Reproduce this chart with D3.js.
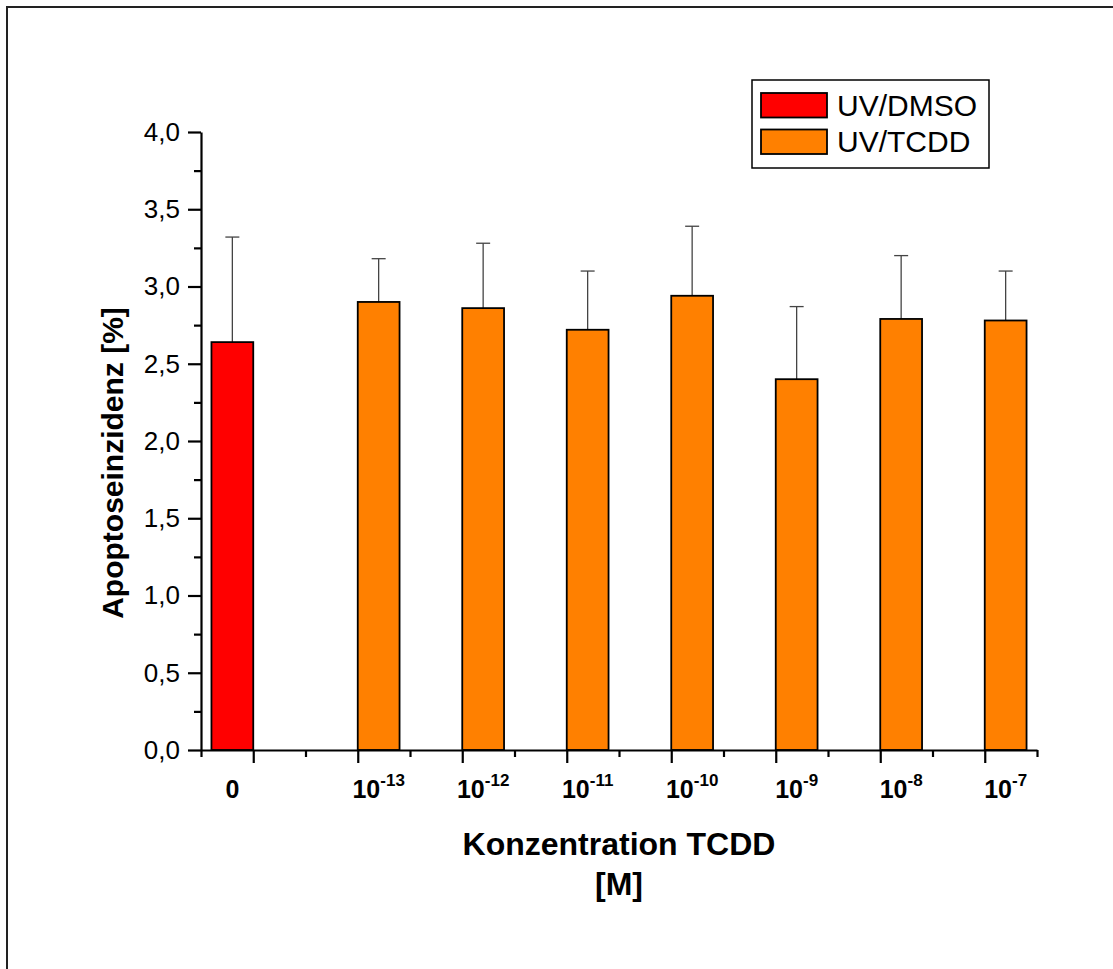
<!DOCTYPE html>
<html>
<head>
<meta charset="utf-8">
<script src="https://cdn.jsdelivr.net/npm/d3@7"></script>
<style>
  body { margin: 0; background: #fff; }
  svg text { font-family: "Liberation Sans", Arial, sans-serif; }
</style>
</head>
<body>
<div id="chart"></div>
<script>
/* data */
var categories = ["0", "-13", "-12", "-11", "-10", "-9", "-8", "-7"];   // exponents of 10, "0" = control
var dmso    = [2.64, null, null, null, null, null, null, null];
var dmsoErr = [0.68, null, null, null, null, null, null, null];
var tcdd    = [null, 2.90, 2.86, 2.72, 2.94, 2.40, 2.79, 2.78];
var tcddErr = [null, 0.28, 0.42, 0.38, 0.45, 0.47, 0.41, 0.32];
var yTicks  = [0, 0.5, 1, 1.5, 2, 2.5, 3, 3.5, 4];
var seriesNames  = ["UV/DMSO", "UV/TCDD"];
var seriesColors = ["#ff0000", "#ff8000"];

var width = 1113, height = 969;
var plot = { left: 201, right: 1037, top: 132, bottom: 750 };
var barW = 0.4;   // in category units

var svg = d3.select("#chart").append("svg")
    .attr("width", width)
    .attr("height", height);

/* outer frame */
svg.append("rect")
    .attr("x", 7).attr("y", 7)
    .attr("width", width + 20).attr("height", height + 20)
    .attr("fill", "none")
    .attr("stroke", "#222")
    .attr("stroke-width", 2);

var x = d3.scaleLinear().domain([0.5, categories.length + 0.5]).range([plot.left, plot.right]);
var y = d3.scaleLinear().domain([0, 4]).range([plot.bottom, plot.top]);

/* build bar records from the arrays */
var bars = [];
categories.forEach(function(c, i) {
    if (dmso[i] != null) bars.push({ pos: i + 1, off: -barW, v: dmso[i], e: dmsoErr[i], color: seriesColors[0] });
    if (tcdd[i] != null) bars.push({ pos: i + 1, off: 0, v: tcdd[i], e: tcddErr[i], color: seriesColors[1] });
});

/* error bars (upper only) */
var err = svg.append("g").attr("stroke", "#444").attr("stroke-width", 1.3);
err.selectAll(".ev").data(bars).enter().append("line")
    .attr("x1", function(d) { return x(d.pos + d.off + barW / 2); })
    .attr("x2", function(d) { return x(d.pos + d.off + barW / 2); })
    .attr("y1", function(d) { return y(d.v); })
    .attr("y2", function(d) { return y(d.v + d.e); });
err.selectAll(".ec").data(bars).enter().append("line")
    .attr("x1", function(d) { return x(d.pos + d.off + barW / 2) - 7; })
    .attr("x2", function(d) { return x(d.pos + d.off + barW / 2) + 7; })
    .attr("y1", function(d) { return y(d.v + d.e); })
    .attr("y2", function(d) { return y(d.v + d.e); });

/* bars */
svg.append("g").selectAll("rect").data(bars).enter().append("rect")
    .attr("x", function(d) { return x(d.pos + d.off); })
    .attr("y", function(d) { return y(d.v); })
    .attr("width", function(d) { return x(d.pos + d.off + barW) - x(d.pos + d.off); })
    .attr("height", function(d) { return y(0) - y(d.v); })
    .attr("fill", function(d) { return d.color; })
    .attr("stroke", "#000")
    .attr("stroke-width", 1.8);

/* y axis: major + minor ticks */
var fmt = function(d) { return d3.format(".1f")(d).replace(".", ","); };
var yAxis = svg.append("g")
    .attr("transform", "translate(" + plot.left + ",0)")
    .call(d3.axisLeft(y).tickValues(yTicks).tickSize(13).tickSizeOuter(0).tickPadding(8).tickFormat(fmt));
svg.append("g")
    .attr("transform", "translate(" + plot.left + ",0)")
    .call(d3.axisLeft(y).tickValues(yTicks.slice(1).map(function(t) { return t - 0.25; }))
        .tickSize(7).tickSizeOuter(0).tickFormat(""))
    .select(".domain").remove();
yAxis.selectAll("text").attr("font-size", 26).attr("fill", "#000")
    .style("font-family", "Liberation Sans, Arial, sans-serif");

/* x axis: major ticks at categories, minor between */
var xMajor = categories.map(function(c, i) { return i + 1; });
var xMinor = [0.5].concat(xMajor.map(function(p) { return p + 0.5; }));
svg.append("g")
    .attr("transform", "translate(0," + plot.bottom + ")")
    .call(d3.axisBottom(x).tickValues(xMajor).tickSize(13).tickSizeOuter(0).tickFormat(""));
svg.append("g")
    .attr("transform", "translate(0," + plot.bottom + ")")
    .call(d3.axisBottom(x).tickValues(xMinor).tickSize(7).tickSizeOuter(0).tickFormat(""))
    .select(".domain").remove();

svg.selectAll(".domain").attr("stroke", "#000").attr("stroke-width", 2.2);
svg.selectAll(".tick line").attr("stroke", "#000").attr("stroke-width", 2.2);

/* x tick labels with superscript exponents, centred on the drawn bar */
var xl = svg.append("g").attr("font-weight", "bold").attr("fill", "#000");
bars.forEach(function(b, i) {
    var c = categories[b.pos - 1];
    var t = xl.append("text")
        .attr("x", x(b.pos + b.off + barW / 2))
        .attr("y", 798)
        .attr("text-anchor", "middle")
        .attr("font-size", 25);
    if (c === "0") {
        t.text("0");
    } else {
        t.append("tspan").text("10");
        t.append("tspan").attr("dy", -12).attr("font-size", 17).text(c);
    }
});

/* axis titles */
svg.append("text")
    .attr("x", (plot.left + plot.right) / 2).attr("y", 855)
    .attr("text-anchor", "middle").attr("font-weight", "bold").attr("font-size", 32)
    .text("Konzentration TCDD");
svg.append("text")
    .attr("x", (plot.left + plot.right) / 2).attr("y", 895)
    .attr("text-anchor", "middle").attr("font-weight", "bold").attr("font-size", 32)
    .text("[M]");
svg.append("text")
    .attr("transform", "translate(123,463)rotate(-90)")
    .attr("text-anchor", "middle").attr("font-weight", "bold").attr("font-size", 30)
    .text("Apoptoseinzidenz [%]");

/* legend */
var lg = svg.append("g").attr("transform", "translate(752,80)");
lg.append("rect").attr("width", 237).attr("height", 88)
    .attr("fill", "#fff").attr("stroke", "#000").attr("stroke-width", 1.5);
seriesNames.forEach(function(n, i) {
    lg.append("rect")
        .attr("x", 9).attr("y", 13 + i * 36.5)
        .attr("width", 66).attr("height", 24.5)
        .attr("fill", seriesColors[i]).attr("stroke", "#000").attr("stroke-width", 1.8);
    lg.append("text")
        .attr("x", 85).attr("y", 35.5 + i * 36.5)
        .attr("font-size", 30).attr("fill", "#000")
        .text(n);
});
</script>
</body>
</html>
